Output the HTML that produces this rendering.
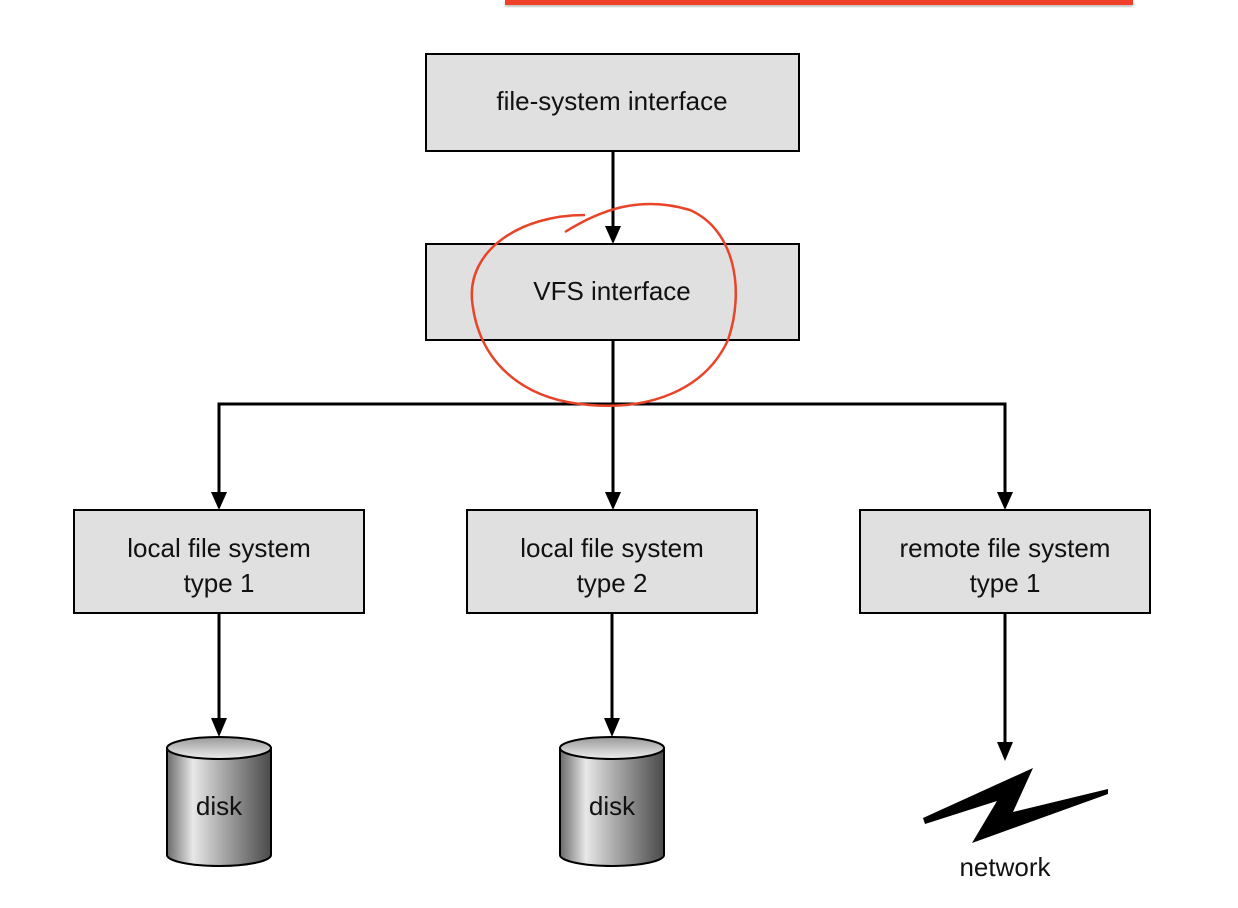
<!DOCTYPE html>
<html><head><style>
html,body{margin:0;padding:0;background:#fff;}
</style></head><body>
<svg width="1238" height="908" xmlns="http://www.w3.org/2000/svg" style="display:block">
<defs>
<linearGradient id="cyl" x1="0" x2="1" y1="0" y2="0">
<stop offset="0" stop-color="#6a6a6a"/><stop offset="0.25" stop-color="#e8e8e8"/><stop offset="0.5" stop-color="#b0b0b0"/><stop offset="1" stop-color="#4a4a4a"/>
</linearGradient>
<linearGradient id="top" x1="0" x2="0" y1="0" y2="1">
<stop offset="0" stop-color="#999"/><stop offset="1" stop-color="#eee"/>
</linearGradient>
<filter id="sh"><feGaussianBlur stdDeviation="1.5"/></filter>
</defs>
<rect x="505" y="2" width="628" height="5" fill="#bbb" filter="url(#sh)"/>
<rect x="505" y="0" width="628" height="5" fill="#f0402a"/>
<g fill="#e0e0e0" stroke="#000" stroke-width="2">
<rect x="426" y="54" width="373" height="97"/>
<rect x="426" y="244" width="373" height="96"/>
<rect x="74" y="510" width="290" height="103"/>
<rect x="467" y="510" width="290" height="103"/>
<rect x="860" y="510" width="290" height="103"/>
</g>
<g font-family="Liberation Sans, sans-serif" font-size="26" fill="#111" text-anchor="middle">
<text x="612" y="110">file-system interface</text>
<text x="612" y="300">VFS interface</text>
<text x="219" y="557">local file system</text><text x="219" y="592">type 1</text>
<text x="612" y="557">local file system</text><text x="612" y="592">type 2</text>
<text x="1005" y="557">remote file system</text><text x="1005" y="592">type 1</text>
<text x="1005" y="876">network</text>
</g>
<g stroke="#000" stroke-width="3" fill="none">
<line x1="613" y1="151" x2="613" y2="228"/>
<line x1="613" y1="340" x2="613" y2="494"/>
<polyline points="219,494 219,404 1005,404 1005,494"/>
<line x1="219" y1="613" x2="219" y2="720"/>
<line x1="612" y1="613" x2="612" y2="720"/>
<line x1="1005" y1="613" x2="1005" y2="744"/>
</g>
<g fill="#000">
<polygon points="605,226 621,226 613,244"/>
<polygon points="211,492 227,492 219,510"/>
<polygon points="605,492 621,492 613,510"/>
<polygon points="997,492 1013,492 1005,510"/>
<polygon points="211,718 227,718 219,737"/>
<polygon points="604,718 620,718 612,737"/>
<polygon points="997,742 1013,742 1005,761"/>
<polygon points="923,818 1033,768 1013,812 1108,789 1108,794 972,843 997,801 925,824"/>
</g>
<g stroke="#000" stroke-width="2">
<path d="M167,748 L167,855 A52,11 0 0 0 271,855 L271,748 Z" fill="url(#cyl)"/>
<ellipse cx="219" cy="748" rx="52" ry="11" fill="url(#top)"/>
<path d="M560,748 L560,855 A52,11 0 0 0 664,855 L664,748 Z" fill="url(#cyl)"/>
<ellipse cx="612" cy="748" rx="52" ry="11" fill="url(#top)"/>
</g>
<g font-family="Liberation Sans, sans-serif" font-size="26" fill="#111" text-anchor="middle">
<text x="219" y="815">disk</text><text x="612" y="815">disk</text>
</g>
<path d="M565,232 C600,210 640,195 690,210 C735,230 745,290 728,340 C705,390 650,410 590,405 C520,400 478,360 472,300 C468,250 520,215 585,215" fill="none" stroke="#e8442a" stroke-width="2.5"/>
</svg>
</body></html>
